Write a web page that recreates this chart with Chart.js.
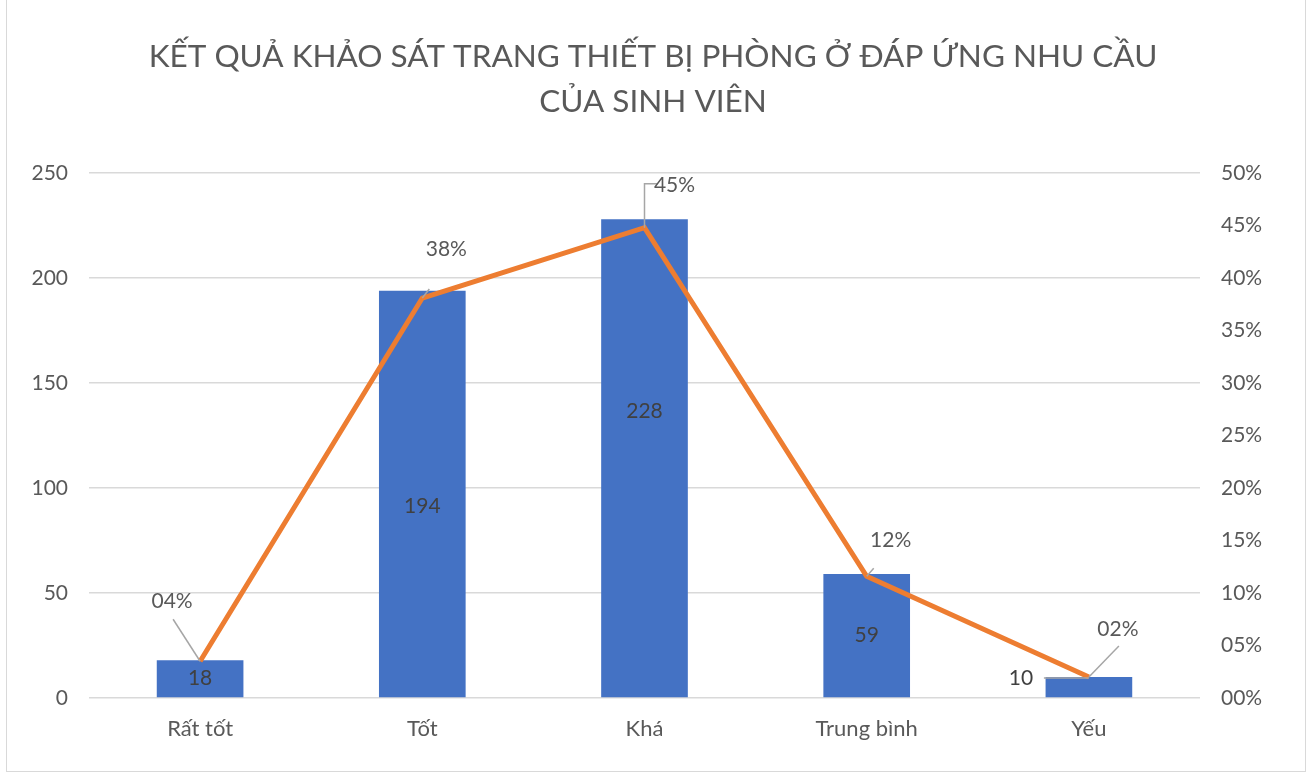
<!DOCTYPE html>
<html>
<head>
<meta charset="utf-8">
<script src="https://cdn.jsdelivr.net/npm/chart.js@4.4.1/dist/chart.umd.min.js"></script>
<style>
  html, body { margin: 0; padding: 0; background: #fff; }
  #wrap { position: relative; width: 1306px; height: 774px; }
  #frame { position: absolute; left: 6px; top: -1px; width: 1298px; height: 771px; border: 1px solid #d9d9d9; pointer-events: none; }
  canvas { display: block; }
</style>
</head>
<body>
<div id="wrap">
  <canvas id="chart" width="1306" height="774"></canvas>
  <div id="frame"></div>
</div>
<script>
// Survey data: room equipment meets student needs
const categories = ["Rất tốt", "Tốt", "Khá", "Trung bình", "Yếu"];
const counts = [18, 194, 228, 59, 10];
const shares = [0.035, 0.381, 0.448, 0.116, 0.020];
const titleLines = ["KẾT QUẢ KHẢO SÁT TRANG THIẾT BỊ PHÒNG Ở ĐÁP ỨNG NHU CẦU", "CỦA SINH VIÊN"];

const FONT = "Lato, 'Open Sans', sans-serif";
const TEXT = "#595959";
const LABEL = "#404040";
const LEADER = "#a6a6a6";
const FS = 21;

const pct = (v) => String(Math.round(v * 100)).padStart(2, "0") + "%";

// label placement, relative to the mark (Excel had these dragged by hand)
const barLabelShift = [[0, 0], [0, 12], [0, -47], [0, 0], [-68, 1]];
const lineLabelShift = [[-28, -60], [24, -49], [30, -42], [24, -36], [29, -48]];
const lineLeaders = [
    [[-27, -42]],
    [[7, -9]],
    [[0, -44], [13, -44]],
    [[7, -8]],
    [[30, -31]],
];

const labelPlugin = {
    id: "labels",
    afterDatasetsDraw(chart) {
        const { ctx } = chart;
        ctx.save();
        ctx.font = `${FS}px ${FONT}`;
        ctx.textAlign = "center";
        ctx.textBaseline = "middle";

        const bars = chart.getDatasetMeta(0).data;
        bars.forEach((bar, i) => {
            const [dx, dy] = barLabelShift[i];
            const x = bar.x + dx;
            const y = (bar.y + bar.base) / 2 + dy;
            if (dx !== 0) {
                // label pulled out of the bar, with a leader back to it
                ctx.strokeStyle = LEADER;
                ctx.lineWidth = 1.5;
                ctx.beginPath();
                ctx.moveTo(x + 23, bar.y + 1);
                ctx.lineTo(bar.x, bar.y + 1);
                ctx.stroke();
            }
            ctx.fillStyle = LABEL;
            ctx.fillText(String(counts[i]), x, dx !== 0 ? bar.y + 1 : y);
        });

        const pts = chart.getDatasetMeta(1).data;
        pts.forEach((pt, i) => {
            ctx.strokeStyle = LEADER;
            ctx.lineWidth = 1.5;
            ctx.beginPath();
            ctx.moveTo(pt.x, pt.y);
            lineLeaders[i].forEach(([lx, ly]) => ctx.lineTo(pt.x + lx, pt.y + ly));
            ctx.stroke();
            const [dx, dy] = lineLabelShift[i];
            ctx.fillStyle = TEXT;
            ctx.fillText(pct(shares[i]), pt.x + dx, pt.y + dy);
        });
        ctx.restore();
    },
};

new Chart(document.getElementById("chart"), {
    data: {
        labels: categories,
        datasets: [
            {
                type: "bar",
                label: "Số lượng",
                data: counts,
                backgroundColor: "#4472c4",
                borderWidth: 0,
                barPercentage: 0.39,
                categoryPercentage: 1,
                yAxisID: "y",
                order: 2,
            },
            {
                type: "line",
                label: "Tỷ lệ",
                data: shares,
                borderColor: "#ed7d31",
                borderWidth: 5,
                pointRadius: 0,
                tension: 0,
                yAxisID: "y1",
                order: 1,
            },
        ],
    },
    options: {
        responsive: false,
        animation: false,
        layout: { padding: { left: 0, right: 0, top: 0, bottom: 6 } },
        plugins: {
            legend: { display: false },
            tooltip: { enabled: false },
            title: {
                display: true,
                text: titleLines,
                color: TEXT,
                font: { family: FONT, size: 31.5, weight: "normal", lineHeight: 1.43 },
                padding: { top: 34, bottom: 49 },
            },
        },
        scales: {
            x: {
                grid: { display: false },
                border: { display: false },
                ticks: { color: TEXT, font: { family: FONT, size: 22 }, padding: 10 },
                afterFit: (s) => { s.height = 70; },
            },
            y: {
                position: "left",
                min: 0,
                max: 250,
                ticks: { stepSize: 50, color: TEXT, font: { family: FONT, size: FS }, padding: 21 },
                grid: { color: "#d9d9d9", lineWidth: 1.5, drawTicks: false },
                border: { display: false },
                afterFit: (s) => { s.width = 89; },
            },
            y1: {
                position: "right",
                min: 0,
                max: 0.5,
                ticks: {
                    stepSize: 0.05,
                    color: TEXT,
                    font: { family: FONT, size: FS },
                    padding: 21,
                    callback: (v) => pct(v),
                },
                grid: { display: false, drawTicks: false },
                border: { display: false },
                afterFit: (s) => { s.width = 106; },
            },
        },
    },
    plugins: [labelPlugin],
});
</script>
</body>
</html>
